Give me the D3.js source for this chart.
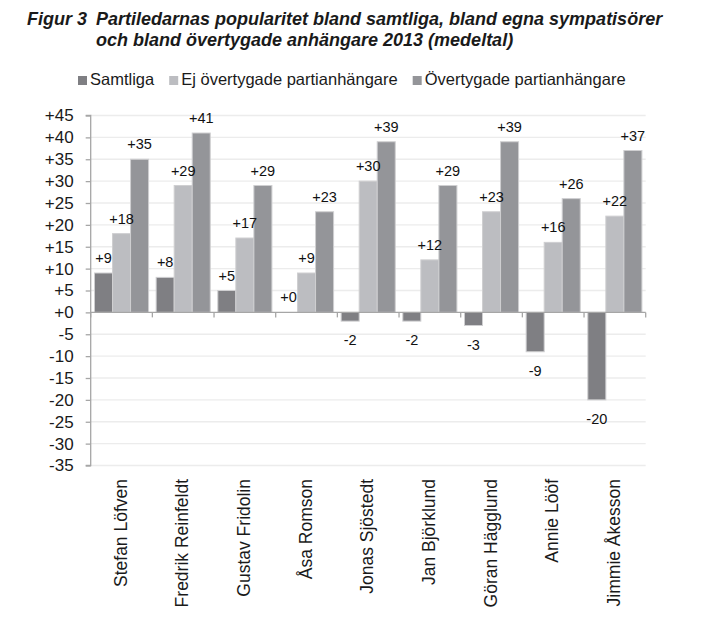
<!DOCTYPE html>
<html>
<head>
<meta charset="utf-8">
<script src="https://cdn.jsdelivr.net/npm/d3@7"></script>
<style>
	body { margin: 0; background: white; }
	svg { font-family: "Liberation Sans", Arial, sans-serif; }
</style>
</head>
<body>
<svg id="chart" width="701" height="642"></svg>
<script>
var leaders = ["Stefan Löfven", "Fredrik Reinfeldt", "Gustav Fridolin", "Åsa Romson", "Jonas Sjöstedt",
	"Jan Björklund", "Göran Hägglund", "Annie Lööf", "Jimmie Åkesson"];
var seriesNames = ["Samtliga", "Ej övertygade partianhängare", "Övertygade partianhängare"];
var samtliga = [9, 8, 5, 0, -2, -2, -3, -9, -20];
var ejOvertygade = [18, 29, 17, 9, 30, 12, 23, 16, 22];
var overtygade = [35, 41, 29, 23, 39, 29, 39, 26, 37];
var yTicks = [45, 40, 35, 30, 25, 20, 15, 10, 5, 0, -5, -10, -15, -20, -25, -30, -35];
var seriesColors = ["#7f7f83", "#bcbdc1", "#949599"];

var svg = d3.select("#chart");
var plotLeft = 90.7, plotRight = 645.7, plotTop = 115.5, plotBottom = 465.5;

var rows = leaders.map(function(name, i) {
	return { name: name, values: [samtliga[i], ejOvertygade[i], overtygade[i]] };
});

var x = d3.scaleBand().domain(leaders).range([plotLeft, plotRight]).padding(0);
var x1 = d3.scaleBand().domain([0, 1, 2]).range([0, x.bandwidth()])
	.paddingInner(0).paddingOuter(0.21);
var y = d3.scaleLinear().domain([-35, 45]).range([plotBottom, plotTop]);

function fmt(v) {
	return v < 0 ? String(v) : "+" + v;
}

// title
var title = svg.append("g")
	.style("font-weight", "bold")
	.style("font-style", "italic")
	.style("font-size", "18px")
	.style("fill", "#1a1a1a");
title.append("text").attr("x", 27).attr("y", 25).text("Figur 3");
title.append("text").attr("x", 96).attr("y", 25).text("Partiledarnas popularitet bland samtliga, bland egna sympatisörer");
title.append("text").attr("x", 96).attr("y", 46).text("och bland övertygade anhängare 2013 (medeltal)");

// legend
var legend = svg.append("g").style("font-size", "16.5px").style("fill", "#1a1a1a");
var lx = 78;
seriesNames.forEach(function(name, i) {
	legend.append("rect")
		.attr("x", lx)
		.attr("y", 76)
		.attr("width", 9)
		.attr("height", 9)
		.style("fill", seriesColors[i]);
	var t = legend.append("text")
		.attr("x", lx + 12)
		.attr("y", 85)
		.text(name);
	lx += 12 + t.node().getComputedTextLength() + 15;
});

// grid lines
svg.append("g").selectAll("line")
	.data(yTicks.filter(function(d) { return d != 0; }))
	.enter()
	.append("line")
	.attr("x1", plotLeft)
	.attr("x2", plotRight)
	.attr("y1", function(d) { return y(d); })
	.attr("y2", function(d) { return y(d); })
	.style("stroke", "#ececec")
	.style("stroke-width", 1.3);

// y axis
var yAxis = svg.append("g")
	.attr("transform", "translate(" + plotLeft + ",0)")
	.call(d3.axisLeft(y).tickValues(yTicks).tickFormat(fmt).tickSize(5).tickPadding(12));
yAxis.selectAll("line, path").style("stroke", "#a6a6a6").style("stroke-width", 1.3);
yAxis.select(".domain").attr("d", "M-5," + y(45) + "H0V" + y(-35) + "H-5");
yAxis.selectAll("text")
	.style("font-family", "\"Liberation Sans\", Arial, sans-serif")
	.style("font-size", "17px")
	.style("fill", "#1a1a1a");

// bars
var groups = svg.append("g").selectAll(".group")
	.data(rows)
	.enter()
	.append("g")
	.attr("class", "group")
	.attr("transform", function(d) { return "translate(" + x(d.name) + ",0)"; });

groups.selectAll("rect")
	.data(function(d) { return d.values; })
	.enter()
	.append("rect")
	.attr("x", function(d, i) { return x1(i); })
	.attr("y", function(d) { return y(Math.max(0, d)); })
	.attr("width", x1.bandwidth())
	.attr("height", function(d) { return Math.abs(y(d) - y(0)); })
	.style("fill", function(d, i) { return seriesColors[i]; })
	.style("stroke", "#cfcfd1")
	.style("stroke-width", 1);

// value labels
groups.selectAll(".value")
	.data(function(d) { return d.values; })
	.enter()
	.append("text")
	.attr("class", "value")
	.attr("x", function(d, i) { return x1(i) + x1.bandwidth() / 2; })
	.attr("y", function(d) { return d < 0 ? y(d) + 24 : y(d) - 10; })
	.style("text-anchor", "middle")
	.style("font-size", "14.5px")
	.style("fill", "#111")
	.text(fmt);

// x axis along zero
var xAxis = svg.append("g");
xAxis.append("line")
	.attr("x1", plotLeft)
	.attr("x2", plotRight)
	.attr("y1", y(0))
	.attr("y2", y(0))
	.style("stroke", "#a6a6a6")
	.style("stroke-width", 1.3);
xAxis.selectAll(".tick")
	.data(leaders.concat(["end"]))
	.enter()
	.append("line")
	.attr("x1", function(d, i) { return plotLeft + i * x.step(); })
	.attr("x2", function(d, i) { return plotLeft + i * x.step(); })
	.attr("y1", y(0))
	.attr("y2", y(0) + 5)
	.style("stroke", "#a6a6a6")
	.style("stroke-width", 1.3);

// category labels
svg.append("g").selectAll("text")
	.data(leaders)
	.enter()
	.append("text")
	.attr("transform", function(d) {
		return "translate(" + (x(d) + x.bandwidth() / 2 + 5) + ",479) rotate(-90)";
	})
	.style("text-anchor", "end")
	.style("font-size", "17.5px")
	.style("fill", "#1a1a1a")
	.text(function(d) { return d; });
</script>
</body>
</html>
